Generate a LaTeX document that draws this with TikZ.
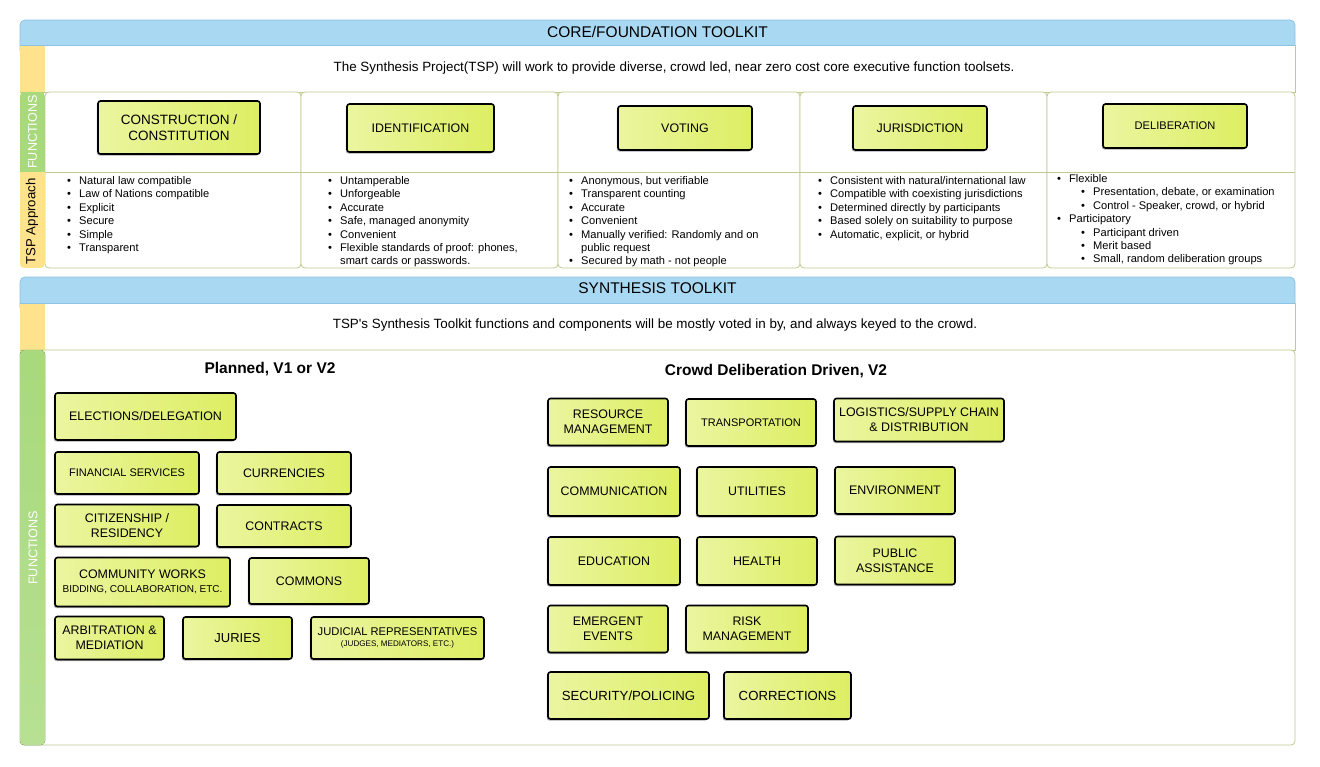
\documentclass[tikz,border=0pt]{standalone}
\usepackage{fontspec}
\setmainfont{Liberation Sans}
\usepackage{tikz}
\usetikzlibrary{shadows}

\definecolor{headblue}{HTML}{A9D8F2}
\definecolor{headline}{HTML}{8CC3E3}
\definecolor{stripyellow}{HTML}{FFE38C}
\definecolor{stripgreen}{HTML}{A8D97C}
\definecolor{stripgreenlow}{HTML}{B7E093}
\definecolor{frameolive}{HTML}{BFCB8E}
\definecolor{boxlight}{HTML}{EBF5A0}
\definecolor{boxdark}{HTML}{DDEE62}

\newcommand{\bitem}[1]{\makebox[12pt][l]{\textbullet}#1}
\newcommand{\bcont}[1]{\hspace*{12pt}#1}
\newcommand{\sitem}[1]{\hspace*{24pt}\bitem{#1}}

\begin{document}
\begin{tikzpicture}[x=1pt, y=-1pt,
        header_style/.style={fill=headblue, draw=headline, line width=0.8pt, rounded corners=5pt},
        frame_style/.style={draw=frameolive, line width=0.8pt},
        cell_style/.style={frame_style, fill=white, rounded corners=4pt},
        box_style/.style={draw=black, line width=1.6pt, rounded corners=2.5pt, left color=boxlight, right color=boxdark,
            drop shadow={shadow xshift=-1.2pt, shadow yshift=-1.5pt, fill=black!60, opacity=0.55},
            align=center, inner sep=0pt, font=\fontsize{12.4}{15}\selectfont},
        head_text/.style={font=\fontsize{15.5}{18}\selectfont},
        desc_text/.style={font=\fontsize{13.4}{16}\selectfont},
        list_style/.style={anchor=north west, align=left, inner sep=0pt, font=\fontsize{11.1}{13.45}\selectfont},
        side_text/.style={rotate=90, inner sep=0pt, font=\fontsize{12.6}{14}\selectfont},
        title_style/.style={font=\bfseries\fontsize{15.5}{18}\selectfont}]

        \useasboundingbox (0,0) rectangle (1320,766);

        % core / foundation toolkit
        \draw [header_style] (20,20) rectangle (1295,55);
        \node [head_text] (corehead) at (657.5,32) {CORE/FOUNDATION TOOLKIT};
        \draw [frame_style, fill=white] (20,45) rectangle (1295,92);
        \fill [stripyellow] (20.4,45.4) rectangle (45,91.6);
        \draw [headline, line width=0.8pt] (20,45) -- (1295,45);
        \node [desc_text] (coredesc) at (674,68) {The Synthesis Project(TSP) will work to provide diverse, crowd led, near zero cost core executive function toolsets.};

        \foreach \xa/\xb in {45/301, 301/558, 558/800, 800/1047, 1047/1295}
            \draw [cell_style] (\xa,92) rectangle (\xb,268);
        \draw [frame_style] (45,172) -- (1295,172);

        \begin{scope}
            \clip [rounded corners=4pt] (20,92) rectangle (45,268);
            \fill [stripgreen] (20,92) rectangle (45,172);
            \fill [stripyellow] (20,172) rectangle (45,268);
        \end{scope}
        \node [side_text, text=white] (corefun) at (32.5,132) {FUNCTIONS};
        \node [side_text, font=\fontsize{13.2}{15}\selectfont] (coreapp) at (32,221.5) {TSP Approach};

        \node [box_style, minimum width=162, minimum height=53, font=\fontsize{13.5}{16}\selectfont] (core1) at (179,127.5) {CONSTRUCTION /\\CONSTITUTION};
        \node [box_style, minimum width=147, minimum height=48] (core2) at (420.5,128) {IDENTIFICATION};
        \node [box_style, minimum width=134, minimum height=44] (core3) at (685,128) {VOTING};
        \node [box_style, minimum width=134, minimum height=44] (core4) at (920,128) {JURISDICTION};
        \node [box_style, minimum width=144, minimum height=44, font=\fontsize{11.1}{13}\selectfont] (core5) at (1175,126) {DELIBERATION};

        \node [list_style] (list1) at (67,176) {\bitem{Natural law compatible}\\\bitem{Law of Nations compatible}\\\bitem{Explicit}\\\bitem{Secure}\\\bitem{Simple}\\\bitem{Transparent}};
        \node [list_style] (list2) at (328,176) {\bitem{Untamperable}\\\bitem{Unforgeable}\\\bitem{Accurate}\\\bitem{Safe, managed anonymity}\\\bitem{Convenient}\\\bitem{Flexible standards of proof: phones,}\\\bcont{smart cards or passwords.}};
        \node [list_style] (list3) at (569,176) {\bitem{Anonymous, but verifiable}\\\bitem{Transparent counting}\\\bitem{Accurate}\\\bitem{Convenient}\\\bitem{Manually verified: Randomly and on}\\\bcont{public request}\\\bitem{Secured by math - not people}};
        \node [list_style] (list4) at (818,176) {\bitem{Consistent with natural/international law}\\\bitem{Compatible with coexisting jurisdictions}\\\bitem{Determined directly by participants}\\\bitem{Based solely on suitability to purpose}\\\bitem{Automatic, explicit, or hybrid}};
        \node [list_style] (list5) at (1057,174) {\bitem{Flexible}\\\sitem{Presentation, debate, or examination}\\\sitem{Control - Speaker, crowd, or hybrid}\\\bitem{Participatory}\\\sitem{Participant driven}\\\sitem{Merit based}\\\sitem{Small, random deliberation groups}};

        % synthesis toolkit
        \draw [header_style] (20,277) rectangle (1295,312);
        \node [head_text] (synhead) at (657.5,288.5) {SYNTHESIS TOOLKIT};
        \draw [frame_style, fill=white] (20,303) rectangle (1295,350);
        \fill [stripyellow] (20.4,303.4) rectangle (45,349.6);
        \draw [headline, line width=0.8pt] (20,303) -- (1295,303);
        \node [desc_text] (syndesc) at (655,325) {TSP\textquotesingle s Synthesis Toolkit functions and components will be mostly voted in by, and always keyed to the crowd.};

        \draw [frame_style, fill=white, rounded corners=4pt] (20,350) rectangle (1295,745);
        \fill [top color=stripgreen, bottom color=stripgreenlow, rounded corners=4pt] (20,350) rectangle (45,745);
        \node [side_text, text=white] (synfun) at (33,548) {FUNCTIONS};

        \node [title_style] (plantitle) at (270,369) {Planned, V1 or V2};
        \node [title_style] (crowdtitle) at (776,371) {Crowd Deliberation Driven, V2};

        \node [box_style, minimum width=181, minimum height=47] (plan1) at (145.5,416.5) {ELECTIONS/DELEGATION};
        \node [box_style, minimum width=144, minimum height=42, font=\fontsize{11}{13}\selectfont] (plan2) at (127,473) {FINANCIAL SERVICES};
        \node [box_style, minimum width=134, minimum height=42] (plan3) at (284,473) {CURRENCIES};
        \node [box_style, minimum width=144, minimum height=42] (plan4) at (127,525.5) {CITIZENSHIP /\\RESIDENCY};
        \node [box_style, minimum width=134, minimum height=42] (plan5) at (284,526) {CONTRACTS};
        \node [box_style, minimum width=175, minimum height=49] (plan6) at (142.5,582) {COMMUNITY WORKS\\[-1.5pt]{\fontsize{10}{12}\selectfont BIDDING, COLLABORATION, ETC.}};
        \node [box_style, minimum width=120, minimum height=46] (plan7) at (309,581) {COMMONS};
        \node [box_style, minimum width=109, minimum height=43] (plan8) at (109.5,638) {ARBITRATION \&\\MEDIATION};
        \node [box_style, minimum width=109, minimum height=42, font=\fontsize{13}{15}\selectfont] (plan9) at (237.5,638) {JURIES};
        \node [box_style, minimum width=173, minimum height=42, font=\fontsize{11.2}{13}\selectfont] (plan10) at (397.5,638) {JUDICIAL REPRESENTATIVES\\[-1.5pt]{\fontsize{8.1}{10}\selectfont (JUDGES, MEDIATORS, ETC.)}};

        \node [box_style, minimum width=120, minimum height=47] (crowd1) at (608,422) {RESOURCE\\MANAGEMENT};
        \node [box_style, minimum width=130, minimum height=47, font=\fontsize{11}{13}\selectfont] (crowd2) at (751,422.5) {TRANSPORTATION};
        \node [box_style, minimum width=170, minimum height=43] (crowd3) at (919,420) {LOGISTICS/SUPPLY CHAIN\\\& DISTRIBUTION};
        \node [box_style, minimum width=132, minimum height=49] (crowd4) at (614,491.5) {COMMUNICATION};
        \node [box_style, minimum width=120, minimum height=49] (crowd5) at (757,491.5) {UTILITIES};
        \node [box_style, minimum width=120, minimum height=47] (crowd6) at (895,490.5) {ENVIRONMENT};
        \node [box_style, minimum width=132, minimum height=48] (crowd7) at (614,561) {EDUCATION};
        \node [box_style, minimum width=120, minimum height=48] (crowd8) at (757,561) {HEALTH};
        \node [box_style, minimum width=120, minimum height=48] (crowd9) at (895,560.5) {PUBLIC\\ASSISTANCE};
        \node [box_style, minimum width=120, minimum height=47] (crowd10) at (608,629) {EMERGENT\\EVENTS};
        \node [box_style, minimum width=122, minimum height=47] (crowd11) at (747,629) {RISK\\MANAGEMENT};
        \node [box_style, minimum width=161, minimum height=47, font=\fontsize{13.2}{15}\selectfont] (crowd12) at (628.5,695.5) {SECURITY/POLICING};
        \node [box_style, minimum width=127, minimum height=47, font=\fontsize{13.2}{15}\selectfont] (crowd13) at (787.5,695.5) {CORRECTIONS};
\end{tikzpicture}
\end{document}
